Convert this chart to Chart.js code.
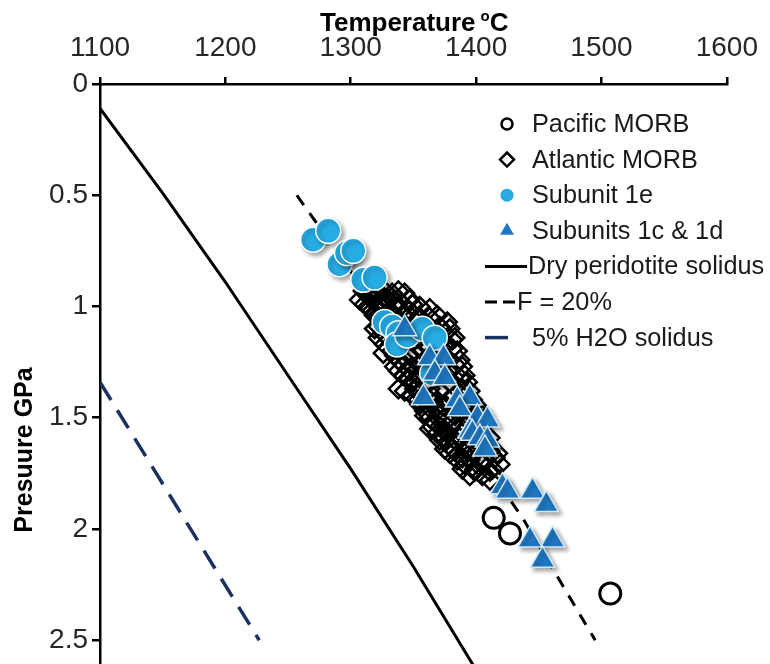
<!DOCTYPE html>
<html>
<head>
<meta charset="utf-8">
<script src="https://cdn.jsdelivr.net/npm/chart.js@4.4.1/dist/chart.umd.min.js"></script>
<style>
  html, body { margin: 0; padding: 0; background: #fff; overflow: hidden; }
  #wrap { width: 770px; height: 688px; }
</style>
</head>
<body>
<div id="wrap"><canvas id="pt-chart" width="770" height="688"></canvas></div>
<script>
// Temperature (°C), pressure (GPa) pairs
const pacificMorb = [[1414, 1.95], [1427, 2.02], [1507, 2.29]];

const atlanticMorb = [
  [1310, 0.93], [1319, 0.93], [1327, 0.93], [1338, 0.93],
  [1314, 0.94], [1323, 0.94], [1333, 0.94], [1343, 0.94],
  [1315, 0.96], [1326, 0.96], [1333, 0.96],
  [1307, 0.97], [1318, 0.97], [1330, 0.97], [1338, 0.97], [1347, 0.97],
  [1311, 0.99], [1322, 0.99], [1341, 0.99], [1349, 0.99],
  [1314, 1.00], [1325, 1.00], [1335, 1.00], [1355, 1.00],
  [1317, 1.02], [1330, 1.02], [1347, 1.02], [1363, 1.01],
  [1319, 1.04], [1330, 1.04], [1341, 1.04], [1351, 1.04], [1369, 1.04],
  [1323, 1.05], [1335, 1.05], [1355, 1.05], [1363, 1.05],
  [1327, 1.07], [1338, 1.07], [1359, 1.07], [1377, 1.07],
  [1322, 1.09], [1339, 1.09], [1349, 1.09], [1371, 1.09],
  [1319, 1.10], [1333, 1.10], [1354, 1.10], [1365, 1.10], [1379, 1.10],
  [1326, 1.12], [1343, 1.12], [1359, 1.12], [1375, 1.12],
  [1322, 1.14], [1338, 1.14], [1355, 1.14], [1371, 1.14], [1383, 1.14],
  [1331, 1.15], [1351, 1.15], [1369, 1.15], [1381, 1.15],
  [1327, 1.17], [1343, 1.17], [1359, 1.17], [1375, 1.17],
  [1339, 1.19], [1355, 1.19], [1381, 1.19],
  [1333, 1.20], [1351, 1.20], [1369, 1.20], [1385, 1.20], [1326, 1.21],
  [1335, 1.22], [1347, 1.22], [1363, 1.22], [1375, 1.22],
  [1338, 1.24], [1359, 1.24], [1377, 1.24], [1387, 1.24],
  [1342, 1.26], [1354, 1.26], [1371, 1.26], [1383, 1.26],
  [1335, 1.27], [1349, 1.27], [1365, 1.27], [1389, 1.27],
  [1338, 1.29], [1347, 1.29], [1359, 1.29], [1379, 1.29],
  [1342, 1.31], [1354, 1.31], [1371, 1.31], [1391, 1.31],
  [1346, 1.32], [1355, 1.32], [1387, 1.32],
  [1349, 1.34], [1362, 1.34], [1379, 1.34], [1393, 1.34],
  [1338, 1.37], [1351, 1.37], [1363, 1.37], [1389, 1.37],
  [1343, 1.38], [1355, 1.38], [1371, 1.38], [1395, 1.38],
  [1349, 1.40], [1365, 1.40], [1383, 1.40],
  [1354, 1.42], [1363, 1.42], [1378, 1.42], [1397, 1.42],
  [1355, 1.44], [1371, 1.44], [1391, 1.44],
  [1362, 1.45], [1375, 1.45], [1387, 1.45], [1401, 1.45],
  [1359, 1.47], [1369, 1.47], [1395, 1.47],
  [1359, 1.49], [1371, 1.49], [1383, 1.49], [1405, 1.49],
  [1363, 1.50], [1375, 1.50], [1399, 1.50],
  [1367, 1.52], [1381, 1.52], [1395, 1.52], [1407, 1.52],
  [1365, 1.54], [1371, 1.54], [1387, 1.54],
  [1363, 1.55], [1374, 1.55], [1385, 1.55], [1403, 1.55],
  [1369, 1.57], [1377, 1.57], [1389, 1.57],
  [1375, 1.59], [1387, 1.59], [1397, 1.59], [1411, 1.59],
  [1371, 1.60], [1383, 1.60], [1399, 1.60],
  [1378, 1.62], [1391, 1.62], [1405, 1.62],
  [1375, 1.64], [1381, 1.64], [1393, 1.64],
  [1383, 1.65], [1397, 1.65], [1411, 1.65],
  [1379, 1.66], [1391, 1.66], [1417, 1.66],
  [1389, 1.68], [1401, 1.68], [1415, 1.68],
  [1385, 1.69], [1395, 1.69], [1407, 1.69],
  [1391, 1.71], [1405, 1.71], [1419, 1.71],
  [1389, 1.73], [1399, 1.73], [1413, 1.73],
  [1399, 1.74], [1411, 1.74],
  [1395, 1.76], [1405, 1.76], [1411, 1.78]
];

const subunit1e = [
  [1270, 0.70], [1282, 0.66], [1291, 0.81], [1297, 0.76], [1302, 0.75],
  [1310, 0.88], [1319, 0.87], [1327, 1.07], [1333, 1.09], [1338, 1.12],
  [1337, 1.17], [1345, 1.13], [1357, 1.10], [1367, 1.14], [1365, 1.30]
];

const subunits1c1d = [
  [1343, 1.10], [1363, 1.23], [1374, 1.23], [1367, 1.30], [1375, 1.32],
  [1358, 1.41], [1385, 1.42], [1395, 1.41], [1387, 1.46], [1401, 1.50],
  [1409, 1.51], [1395, 1.56], [1397, 1.57], [1403, 1.59], [1409, 1.60],
  [1407, 1.64], [1421, 1.81], [1425, 1.83], [1445, 1.83], [1456, 1.89],
  [1443, 2.05], [1461, 2.05], [1453, 2.14]
];

const drySolidus = [[1100, 0.11], [1150, 0.49], [1200, 0.89], [1250, 1.31], [1300, 1.73], [1350, 2.17], [1405, 2.68]];
const meltF20 = [[1257, 0.50], [1345, 1.20], [1437, 1.95], [1495, 2.50]];
const wetSolidus = [[1100, 1.34], [1227, 2.50]];

const legendLabels = ['Pacific MORB', 'Atlantic MORB', 'Subunit 1e', 'Subunits 1c & 1d',
  'Dry peridotite solidus', 'F = 20%', '5% H2O solidus'];

const fontFamily = "'Liberation Sans', Arial, sans-serif";
const toXY = pts => pts.map(([x, y]) => ({ x, y }));

// soft drop shadow behind the coloured markers
const markerShadow = {
  id: 'markerShadow',
  beforeDatasetDraw(chart, args) {
    const ds = chart.data.datasets[args.index];
    if (!ds.shadow) return;
    const ctx = chart.ctx;
    ctx.save();
    ctx.shadowColor = 'rgba(0,0,0,0.35)';
    ctx.shadowBlur = 4;
    ctx.shadowOffsetX = 3;
    ctx.shadowOffsetY = 3;
  },
  afterDatasetDraw(chart, args) {
    if (chart.data.datasets[args.index].shadow) chart.ctx.restore();
  }
};

// axis titles and the legend block inside the plot
const annotations = {
  id: 'annotations',
  afterDraw(chart) {
    const ctx = chart.ctx;
    ctx.save();
    ctx.fillStyle = '#000';
    ctx.textBaseline = 'alphabetic';
    ctx.textAlign = 'left';
    ctx.font = `bold 26px ${fontFamily}`;
    let x = 320;
    ctx.fillText('Temperature', x, 31);
    x += ctx.measureText('Temperature').width + 5;
    ctx.font = `bold 15px ${fontFamily}`;
    ctx.fillText('o', x, 21);
    x += ctx.measureText('o').width;
    ctx.font = `bold 26px ${fontFamily}`;
    ctx.fillText('C', x, 31);

    ctx.translate(32, 450);
    ctx.rotate(-Math.PI / 2);
    ctx.textAlign = 'center';
    ctx.font = `bold 25px ${fontFamily}`;
    ctx.fillText('Presuure GPa', 0, 0);
    ctx.restore();

    // legend
    const byLabel = {};
    chart.data.datasets.forEach(d => { byLabel[d.label] = d; });
    ctx.save();
    ctx.font = `25.3px ${fontFamily}`;
    ctx.textBaseline = 'middle';
    ctx.fillStyle = '#1a1a1a';
    const markerSize = { 'Pacific MORB': 5.5, 'Atlantic MORB': 7, 'Subunit 1e': 6.5, 'Subunits 1c & 1d': 8 };
    legendLabels.forEach((label, i) => {
      const d = byLabel[label];
      const y = 124 + i * 35.6;
      let textX = 532;
      ctx.save();
      if (d.showLine) {
        ctx.strokeStyle = d.borderColor;
        ctx.lineWidth = 3;
        ctx.beginPath();
        if (label === 'F = 20%') {
          ctx.moveTo(485, y); ctx.lineTo(497, y);
          ctx.moveTo(503, y); ctx.lineTo(515, y);
          textX = 517;
        } else if (label === 'Dry peridotite solidus') {
          ctx.moveTo(485, y); ctx.lineTo(527, y);
          textX = 528;
        } else {
          ctx.lineWidth = 3.5;
          ctx.moveTo(485, y); ctx.lineTo(508, y);
        }
        ctx.stroke();
      } else {
        ctx.fillStyle = d.backgroundColor;
        ctx.strokeStyle = d.borderColor;
        ctx.lineWidth = d.legendBorder;
        Chart.helpers.drawPoint(ctx, {
          pointStyle: d.pointStyle, radius: markerSize[label], rotation: 0, borderWidth: d.legendBorder
        }, 507, y);
      }
      ctx.restore();
      ctx.fillText(label, textX, y + 1);
    });
    ctx.restore();
  }
};

const tickFont = { family: fontFamily, size: 28 };

new Chart(document.getElementById('pt-chart'), {
  type: 'scatter',
  data: {
    datasets: [
      { label: 'Subunits 1c & 1d', data: toXY(subunits1c1d), pointStyle: 'triangle', pointRadius: 14,
        backgroundColor: '#1f77c0', borderColor: '#cfe8f7', borderWidth: 1.5, legendBorder: 0, order: 1, shadow: true },
      { label: 'Subunit 1e', data: toXY(subunit1e), pointStyle: 'circle', pointRadius: 12.5,
        backgroundColor: '#27abe3', borderColor: '#ffffff', borderWidth: 1.5, legendBorder: 0, order: 2, shadow: true },
      { label: 'Pacific MORB', data: toXY(pacificMorb), pointStyle: 'circle', pointRadius: 10.5,
        backgroundColor: 'rgba(0,0,0,0)', borderColor: '#000', borderWidth: 3, legendBorder: 2.5, order: 3 },
      { label: 'Atlantic MORB', data: toXY(atlanticMorb), pointStyle: 'rectRot', pointRadius: 9.5,
        backgroundColor: 'rgba(0,0,0,0)', borderColor: '#000', borderWidth: 2.5, legendBorder: 2.5, order: 4 },
      { label: 'Dry peridotite solidus', data: toXY(drySolidus), showLine: true, pointRadius: 0,
        borderColor: '#000', borderWidth: 3, order: 5 },
      { label: 'F = 20%', data: toXY(meltF20), showLine: true, pointRadius: 0,
        borderColor: '#000', borderWidth: 3, borderDash: [12, 10], order: 6 },
      { label: '5% H2O solidus', data: toXY(wetSolidus), showLine: true, pointRadius: 0,
        borderColor: '#1b3160', borderWidth: 3.5, borderDash: [21, 12], order: 7 }
    ]
  },
  options: {
    responsive: false,
    animation: false,
    events: [],
    layout: { padding: { left: 0, right: 42, top: 0, bottom: 0 } },
    plugins: { legend: { display: false }, tooltip: { enabled: false } },
    scales: {
      x: {
        type: 'linear', position: 'top', min: 1100, max: 1600,
        ticks: { stepSize: 100, font: tickFont, color: '#262626', padding: 12, maxRotation: 0,
          callback: v => String(v) },
        grid: { drawOnChartArea: false, drawTicks: true, tickLength: 7, color: '#000', lineWidth: 2.5 },
        border: { color: '#000', width: 2.5 },
        afterFit: s => { s.height = 84; }
      },
      y: {
        type: 'linear', reverse: true, min: 0, max: 2.645,
        ticks: { stepSize: 0.5, includeBounds: false, font: tickFont, color: '#262626', padding: 4,
          callback: v => String(v) },
        grid: { drawOnChartArea: false, drawTicks: true, tickLength: 8, color: '#000', lineWidth: 2.5 },
        border: { color: '#000', width: 2.5 },
        // plot runs off the bottom edge, so no room is kept for the last label
        afterFit: s => { s.width = 100; s.paddingTop = 0; s.paddingBottom = 0; }
      }
    }
  },
  plugins: [markerShadow, annotations]
});
</script>
</body>
</html>
